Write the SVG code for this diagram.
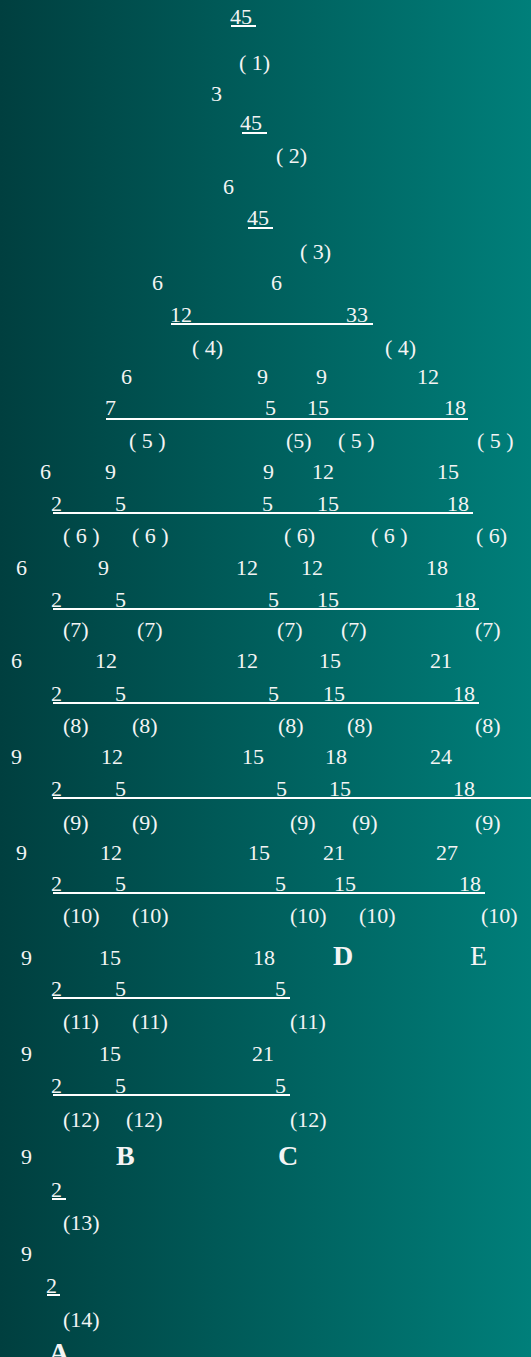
<svg xmlns="http://www.w3.org/2000/svg" width="531" height="1357" viewBox="0 0 531 1357">
<defs>
<linearGradient id="bg" x1="0" y1="0" x2="1" y2="0">
<stop offset="0" stop-color="#003f3f"/>
<stop offset="1" stop-color="#007f7a"/>
</linearGradient>
<style>
text{font-family:"Liberation Serif","Times New Roman",serif;font-size:22px;fill:#f4f4f4}
.big{font-size:28px}
.bold{font-weight:bold}
.rule line{stroke:#ffffff;stroke-width:2}
</style>
</defs>
<rect x="0" y="0" width="531" height="1357" fill="url(#bg)"/>
<g id="connectors" class="rule">
<line x1="231" y1="26" x2="256" y2="26"/>
<line x1="242" y1="133" x2="267" y2="133"/>
<line x1="248" y1="228" x2="273" y2="228"/>
<line x1="171" y1="324" x2="373" y2="324"/>
<line x1="106" y1="419" x2="468" y2="419"/>
<line x1="53" y1="513" x2="473" y2="513"/>
<line x1="53" y1="609" x2="479" y2="609"/>
<line x1="53" y1="703" x2="479" y2="703"/>
<line x1="53" y1="798" x2="531" y2="798"/>
<line x1="53" y1="893" x2="485" y2="893"/>
<line x1="53" y1="998" x2="290" y2="998"/>
<line x1="53" y1="1095" x2="290" y2="1095"/>
<line x1="52" y1="1199" x2="66" y2="1199"/>
<line x1="47" y1="1295" x2="60" y2="1295"/>
</g>
<g id="level0">
<text x="230" y="24">45</text>
<text x="239" y="70">( 1)</text>
<text x="211" y="101">3</text>
<text x="240" y="130">45</text>
<text x="276" y="163">( 2)</text>
<text x="223" y="194">6</text>
<text x="247" y="225">45</text>
<text x="300" y="259">( 3)</text>
<text x="152" y="290">6</text>
<text x="271" y="290">6</text>
</g>
<g id="level1">
<text x="170" y="322">12</text>
<text x="346" y="322">33</text>
<text x="192" y="355">( 4)</text>
<text x="385" y="355">( 4)</text>
<text x="121" y="384">6</text>
<text x="257" y="384">9</text>
<text x="316" y="384">9</text>
<text x="417" y="384">12</text>
</g>
<g id="level2">
<text x="105" y="415">7</text>
<text x="265" y="415">5</text>
<text x="307" y="415">15</text>
<text x="444" y="415">18</text>
<text x="129" y="448">( 5 )</text>
<text x="286" y="448">(5)</text>
<text x="338" y="448">( 5 )</text>
<text x="477" y="448">( 5 )</text>
<text x="40" y="479">6</text>
<text x="105" y="479">9</text>
<text x="263" y="479">9</text>
<text x="312" y="479">12</text>
<text x="437" y="479">15</text>
</g>
<g id="level3">
<text x="51" y="511">2</text>
<text x="115" y="511">5</text>
<text x="262" y="511">5</text>
<text x="317" y="511">15</text>
<text x="447" y="511">18</text>
<text x="63" y="543">( 6 )</text>
<text x="132" y="543">( 6 )</text>
<text x="284" y="543">( 6)</text>
<text x="371" y="543">( 6 )</text>
<text x="476" y="543">( 6)</text>
<text x="16" y="575">6</text>
<text x="98" y="575">9</text>
<text x="236" y="575">12</text>
<text x="301" y="575">12</text>
<text x="426" y="575">18</text>
</g>
<g id="level4">
<text x="51" y="607">2</text>
<text x="115" y="607">5</text>
<text x="268" y="607">5</text>
<text x="317" y="607">15</text>
<text x="454" y="607">18</text>
<text x="63" y="637">(7)</text>
<text x="137" y="637">(7)</text>
<text x="277" y="637">(7)</text>
<text x="341" y="637">(7)</text>
<text x="475" y="637">(7)</text>
<text x="11" y="668">6</text>
<text x="95" y="668">12</text>
<text x="236" y="668">12</text>
<text x="319" y="668">15</text>
<text x="430" y="668">21</text>
</g>
<g id="level5">
<text x="51" y="701">2</text>
<text x="115" y="701">5</text>
<text x="268" y="701">5</text>
<text x="323" y="701">15</text>
<text x="453" y="701">18</text>
<text x="63" y="733">(8)</text>
<text x="132" y="733">(8)</text>
<text x="278" y="733">(8)</text>
<text x="347" y="733">(8)</text>
<text x="475" y="733">(8)</text>
<text x="11" y="764">9</text>
<text x="101" y="764">12</text>
<text x="242" y="764">15</text>
<text x="325" y="764">18</text>
<text x="430" y="764">24</text>
</g>
<g id="level6">
<text x="51" y="796">2</text>
<text x="115" y="796">5</text>
<text x="276" y="796">5</text>
<text x="329" y="796">15</text>
<text x="453" y="796">18</text>
<text x="63" y="830">(9)</text>
<text x="132" y="830">(9)</text>
<text x="290" y="830">(9)</text>
<text x="352" y="830">(9)</text>
<text x="475" y="830">(9)</text>
<text x="16" y="860">9</text>
<text x="100" y="860">12</text>
<text x="248" y="860">15</text>
<text x="323" y="860">21</text>
<text x="436" y="860">27</text>
</g>
<g id="level7">
<text x="51" y="891">2</text>
<text x="115" y="891">5</text>
<text x="275" y="891">5</text>
<text x="334" y="891">15</text>
<text x="459" y="891">18</text>
<text x="63" y="923">(10)</text>
<text x="132" y="923">(10)</text>
<text x="290" y="923">(10)</text>
<text x="359" y="923">(10)</text>
<text x="481" y="923">(10)</text>
<text x="21" y="965">9</text>
<text x="99" y="965">15</text>
<text x="253" y="965">18</text>
<text class="big bold" x="333" y="965">D</text>
<text class="big" x="470" y="965">E</text>
</g>
<g id="level8">
<text x="51" y="996">2</text>
<text x="115" y="996">5</text>
<text x="275" y="996">5</text>
<text x="63" y="1029">(11)</text>
<text x="132" y="1029">(11)</text>
<text x="290" y="1029">(11)</text>
<text x="21" y="1061">9</text>
<text x="99" y="1061">15</text>
<text x="252" y="1061">21</text>
</g>
<g id="level9">
<text x="51" y="1093">2</text>
<text x="115" y="1093">5</text>
<text x="275" y="1093">5</text>
<text x="63" y="1127">(12)</text>
<text x="126" y="1127">(12)</text>
<text x="290" y="1127">(12)</text>
<text x="21" y="1164">9</text>
<text class="big bold" x="116" y="1165">B</text>
<text class="big bold" x="278" y="1165">C</text>
</g>
<g id="level10">
<text x="51" y="1197">2</text>
<text x="63" y="1230">(13)</text>
<text x="21" y="1261">9</text>
<text x="46" y="1293">2</text>
<text x="63" y="1327">(14)</text>
<text class="big bold" x="49" y="1362">A</text>
</g>
</svg>
